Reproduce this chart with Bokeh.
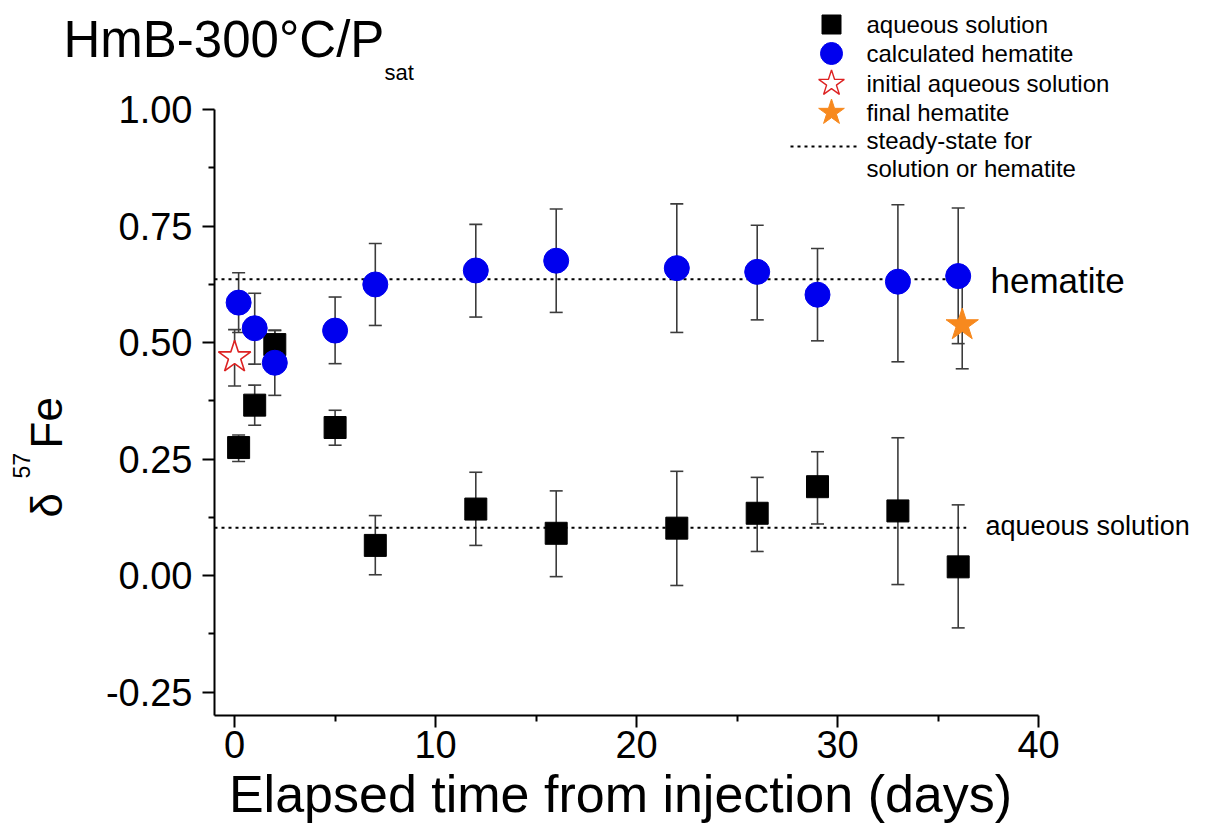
import numpy as np
from bokeh.plotting import figure
from bokeh.models import (ColumnDataSource, Whisker, TeeHead, Label, FixedTicker,
                          NumeralTickFormatter, Range1d, LinearAxis)
from bokeh.embed import file_html
from bokeh.resources import INLINE

# ---------------- data ----------------
aq_days = [0.2, 1, 2, 5, 7, 12, 16, 22, 26, 29, 33, 36]
aq_d57 = [0.275, 0.366, 0.496, 0.318, 0.065, 0.143, 0.091, 0.102, 0.134, 0.191, 0.139, 0.019]
aq_lo = [0.245, 0.323, 0.465, 0.280, 0.002, 0.065, -0.002, -0.021, 0.052, 0.111, -0.019, -0.112]
aq_hi = [0.302, 0.409, 0.527, 0.355, 0.129, 0.222, 0.182, 0.224, 0.211, 0.266, 0.296, 0.152]

hm_days = [0.2, 1, 2, 5, 7, 12, 16, 22, 26, 29, 33, 36]
hm_d57 = [0.586, 0.531, 0.457, 0.526, 0.625, 0.655, 0.676, 0.660, 0.652, 0.603, 0.631, 0.643]
hm_lo = [0.522, 0.454, 0.387, 0.455, 0.537, 0.555, 0.565, 0.522, 0.549, 0.504, 0.459, 0.498]
hm_hi = [0.650, 0.606, 0.526, 0.598, 0.713, 0.754, 0.787, 0.798, 0.752, 0.702, 0.796, 0.789]

init_day = [0.0]
init_d57 = [0.469]
init_lo = [0.407]
init_hi = [0.528]

final_day = [36.2]
final_d57 = [0.538]
final_lo = [0.444]
final_hi = [0.632]

ss_names = ["hematite", "aqueous solution"]
ss_values = [0.636, 0.103]
ss_start = [-1.0, -1.0]
ss_end = [36.4, 36.4]

x_bounds = (-1, 40)
y_bounds = (-0.30, 1.0)
x_ticks = [0, 10, 20, 30, 40]
x_minor = [5, 15, 25, 35]
y_ticks = [-0.25, 0.0, 0.25, 0.5, 0.75, 1.0]
y_minor = [-0.125, 0.125, 0.375, 0.625, 0.875]

legend_labels = ["aqueous solution", "calculated hematite", "initial aqueous solution",
                 "final hematite", "steady-state for", "solution or hematite"]

# ---------------- layout ----------------
FONT = "Liberation Sans"
W, H = 1196, 824
AXIS_LEFT_PX = 214      # where x = -1 sits
AXIS_BOTTOM_PX = 715    # where y = -0.30 sits
PX_PER_DAY = 20.1
PX_PER_UNIT = 466.0
MID = 0.3465            # "middle" anchor sits this many em above the baseline

def X(px):  # picture pixel -> data x
    return x_bounds[0] + (px - AXIS_LEFT_PX) / PX_PER_DAY

def Y(py):  # picture pixel -> data y
    return y_bounds[0] + (AXIS_BOTTOM_PX - py) / PX_PER_UNIT

p = figure(width=W, height=H, output_backend="svg", toolbar_location=None,
           x_range=Range1d(X(0), X(W)), y_range=Range1d(Y(H), Y(0)),
           x_axis_type=None, y_axis_type=None, min_border=0)
p.outline_line_color = None
p.background_fill_color = "white"
p.border_fill_color = "white"

yaxis = LinearAxis(fixed_location=x_bounds[0], bounds=y_bounds,
                   ticker=FixedTicker(ticks=y_ticks, minor_ticks=y_minor),
                   formatter=NumeralTickFormatter(format="0.00"))
xaxis = LinearAxis(fixed_location=y_bounds[0], bounds=x_bounds,
                   ticker=FixedTicker(ticks=x_ticks, minor_ticks=x_minor))
for ax in (xaxis, yaxis):
    ax.axis_line_color = "black"
    ax.axis_line_width = 2
    ax.major_tick_line_color = "black"
    ax.minor_tick_line_color = "black"
    ax.major_tick_line_width = 2
    ax.minor_tick_line_width = 2
    ax.major_tick_out = 12
    ax.major_tick_in = 0
    ax.minor_tick_out = 6
    ax.minor_tick_in = 0
    ax.major_label_text_font = FONT
    ax.major_label_text_font_size = "38px"
    ax.major_label_text_color = "black"
yaxis.major_label_standoff = 10
xaxis.major_label_standoff = 3
p.add_layout(yaxis, "left")
p.add_layout(xaxis, "below")

# steady-state lines
p.segment(x0=ss_start, y0=ss_values, x1=ss_end, y1=ss_values,
          line_color="black", line_width=2, line_dash="3 4")

# error bars
ERR = "#3c3c3c"
def add_whisker(xs, lo, hi):
    src = ColumnDataSource(dict(x=xs, lo=lo, hi=hi))
    w = Whisker(source=src, base="x", lower="lo", upper="hi", dimension="height",
                line_color=ERR, line_width=1.6,
                upper_head=TeeHead(size=13, line_color=ERR, line_width=1.6),
                lower_head=TeeHead(size=13, line_color=ERR, line_width=1.6))
    p.add_layout(w)

add_whisker(aq_days, aq_lo, aq_hi)
add_whisker(hm_days, hm_lo, hm_hi)
add_whisker(init_day, init_lo, init_hi)
add_whisker(final_day, final_lo, final_hi)

BLUE = "#0000ee"
RED = "#dd2222"
ORANGE = "#f7891e"

p.scatter(aq_days, aq_d57, marker="square", size=22, fill_color="black", line_color="black")
p.scatter(hm_days, hm_d57, marker="circle", size=25, fill_color=BLUE, line_color=BLUE)
p.scatter(init_day, init_d57, marker="star", size=34, fill_color="white",
          line_color=RED, line_width=1.6)
p.scatter(final_day, final_d57, marker="star", size=34, fill_color=ORANGE, line_color=ORANGE)

# ---------------- legend (manual) ----------------
leg_rows_px = [24, 53, 83, 112]
leg_x = X(831)
p.scatter([leg_x], [Y(leg_rows_px[0])], marker="square", size=19, fill_color="black", line_color="black")
p.scatter([leg_x], [Y(leg_rows_px[1])], marker="circle", size=22, fill_color=BLUE, line_color=BLUE)
p.scatter([leg_x], [Y(leg_rows_px[2])], marker="star", size=27, fill_color="white",
          line_color=RED, line_width=1.4)
p.scatter([leg_x], [Y(leg_rows_px[3])], marker="star", size=27, fill_color=ORANGE, line_color=ORANGE)
p.segment(x0=[X(790)], y0=[Y(146)], x1=[X(857)], y1=[Y(146)],
          line_color="black", line_width=2, line_dash="3 4")

def label(px, py, text, size, align="left", angle=0.0):
    p.add_layout(Label(x=X(px), y=Y(py), text=text, text_font=FONT, text_font_size=f"{size}px",
                       text_align=align, text_baseline="middle", angle=angle,
                       text_color="black"))

def label_bl(px, py, text, size, align="left"):
    # horizontal text placed by its baseline
    label(px, py - MID * size, text, size, align)

def vlabel_bl(px, py, text, size):
    # text rotated 90 degrees, placed by its baseline (px) and start (py)
    label(px - MID * size, py, text, size, angle=np.pi / 2)

for lab, py in zip(legend_labels, [24, 53, 83, 112, 140, 168]):
    label(866, py, lab, 24)

# ---------------- texts ----------------
label_bl(63, 57, "HmB-300°C/P", 51)
label_bl(384, 80, "sat", 22)

label(990, 280, ss_names[0], 35)
label(985, 525, ss_names[1], 27)

# y-axis title: δ 57Fe (rotated)
vlabel_bl(61, 517, "δ", 44)
vlabel_bl(29, 478, "57", 23)
vlabel_bl(61, 448, "Fe", 44)

# x-axis title
label_bl(620, 812, "Elapsed time from injection (days)", 52, align="center")

open("out.html", "w").write(file_html(p, INLINE))
